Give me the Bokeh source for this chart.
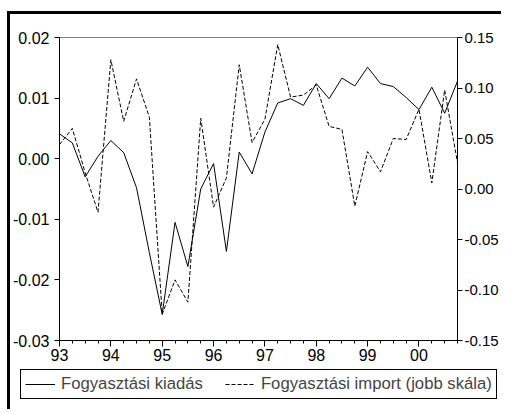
from bokeh.plotting import figure
from bokeh.layouts import column
from bokeh.models import (Range1d, LinearAxis, FixedTicker, NumeralTickFormatter,
                          Legend, LegendItem)
from bokeh.embed import file_html
from bokeh.resources import INLINE

years = [1993, 1994, 1995, 1996, 1997, 1998, 1999, 2000]
tick_labels = ["93", "94", "95", "96", "97", "98", "99", "00"]

kiadas = [0.0041, 0.0026, -0.0030, 0.0004,
          0.0030, 0.0010, -0.0048, -0.0155,
          -0.0257, -0.0105, -0.0178, -0.0050,
          -0.0008, -0.0153, 0.0011, -0.0025,
          0.0044, 0.0092, 0.0099, 0.0088,
          0.0124, 0.0099, 0.0133, 0.0120,
          0.0151, 0.0124, 0.0119, 0.0101,
          0.0081, 0.0118, 0.0075, 0.0128]

import_ = [0.044, 0.060, 0.016, -0.023,
           0.128, 0.067, 0.109, 0.071,
           -0.124, -0.090, -0.112, 0.070,
           -0.018, 0.011, 0.123, 0.046,
           0.069, 0.143, 0.091, 0.093,
           0.103, 0.062, 0.059, -0.017,
           0.037, 0.017, 0.050, 0.049,
           0.079, 0.006, 0.098, 0.026]

left_ticks = [-0.03, -0.02, -0.01, 0.0, 0.01, 0.02]
right_ticks = [-0.15, -0.10, -0.05, 0.0, 0.05, 0.10, 0.15]

label1 = "Fogyasztási kiadás"
label2 = "Fogyasztási import (jobb skála)"

x = [yr + q / 4 for yr in years for q in range(4)]

FONT = "Liberation Sans"
FS = "16px"

p = figure(width=491, height=353, output_backend="svg", toolbar_location=None,
           x_range=Range1d(years[0], years[-1] + 0.75),
           y_range=Range1d(left_ticks[0], left_ticks[-1]),
           x_axis_type=None, y_axis_type=None,
           min_border_left=47, min_border_top=23, min_border_right=40,
           min_border_bottom=27)
p.extra_y_ranges = {"right": Range1d(right_ticks[0], right_ticks[-1])}
p.outline_line_color = "#808080"
p.outline_line_width = 1
p.background_fill_color = "white"
p.border_fill_color = "white"
p.frame_align = False


def style_axis(ax, standoff, size=FS):
    ax.axis_line_color = "black"
    ax.axis_line_width = 1
    ax.major_tick_line_color = "black"
    ax.minor_tick_line_color = "black"
    ax.major_tick_in = 0
    ax.minor_tick_in = 0
    ax.axis_label_standoff = 0
    ax.major_label_text_font = FONT
    ax.major_label_text_font_size = size
    ax.major_label_text_color = "black"
    ax.major_label_standoff = standoff


left = LinearAxis(ticker=FixedTicker(ticks=left_ticks),
                  formatter=NumeralTickFormatter(format="0.00"))
style_axis(left, 5)
left.major_tick_out = 5
p.add_layout(left, "left")

right = LinearAxis(y_range_name="right", ticker=FixedTicker(ticks=right_ticks),
                   formatter=NumeralTickFormatter(format="0.00"))
style_axis(right, 2, "15px")
right.major_tick_out = 5
p.add_layout(right, "right")

bottom = LinearAxis(ticker=FixedTicker(ticks=years, minor_ticks=x))
style_axis(bottom, 2)
bottom.major_tick_out = 6
bottom.minor_tick_out = 3
bottom.major_label_overrides = {yr: lab for yr, lab in zip(years, tick_labels)}
p.add_layout(bottom, "below")

r1 = p.line(x, kiadas, line_color="black", line_width=1)
r2 = p.line(x, import_, y_range_name="right", line_color="black", line_width=1,
            line_dash="4 2")

# legend strip below the chart (its sample lines sit outside the visible range)
pl = figure(width=491, height=42, output_backend="svg", toolbar_location=None,
            x_range=Range1d(0, 1), y_range=Range1d(0, 1),
            x_axis_type=None, y_axis_type=None, min_border=0,
            outline_line_color=None, background_fill_color="white",
            border_fill_color="white")
pl.frame_align = False
lr1 = pl.line([-5, -4], [-5, -4], line_color="black", line_width=1)
lr2 = pl.line([-5, -4], [-5, -4], line_color="black", line_width=1, line_dash="4 2")
legend = Legend(items=[LegendItem(label=label1, renderers=[lr1]),
                       LegendItem(label=label2, renderers=[lr2])],
                orientation="horizontal", location=(10, 10),
                border_line_color="black", border_line_width=1, border_line_alpha=1,
                background_fill_color="white", background_fill_alpha=1,
                padding=4, spacing=22, margin=0,
                glyph_width=30, glyph_height=14, label_height=14, label_standoff=6,
                label_text_font=FONT, label_text_font_size="16.7px")
pl.add_layout(legend)

layout = column(p, pl, spacing=0, margin=(11, 0, 0, 7),
                styles={"border-left": "3px solid black",
                        "border-top": "3px solid black"})

open("out.html", "w").write(file_html(layout, INLINE))
